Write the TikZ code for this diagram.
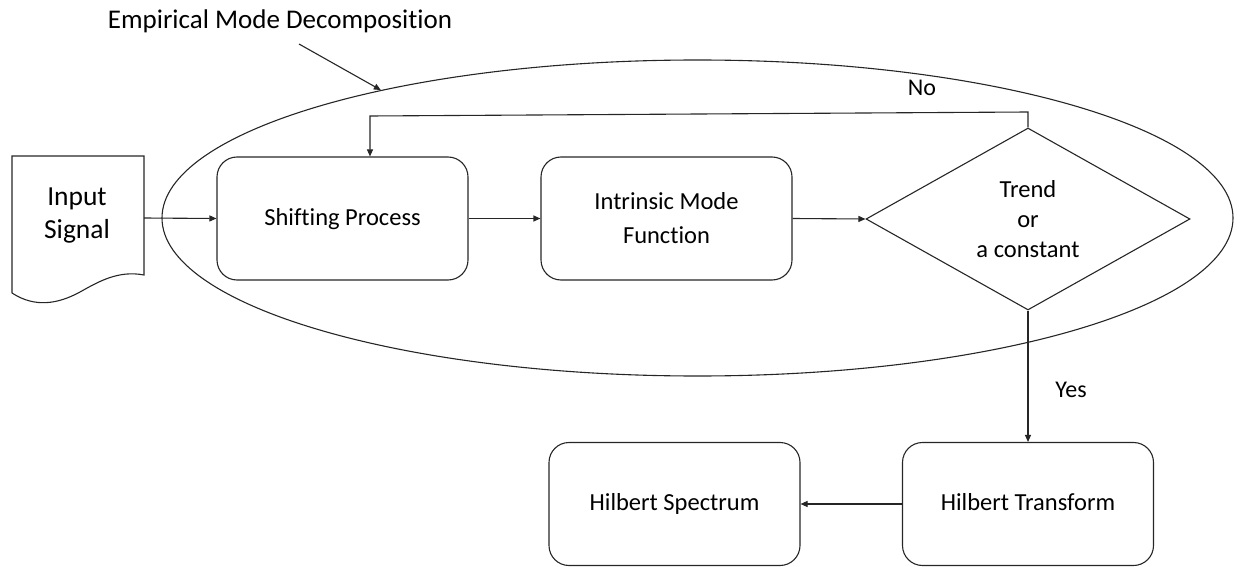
\documentclass[tikz,border=0pt]{standalone}
\usepackage{fontspec}
\setmainfont{Carlito}[Ligatures={NoCommon}]
\usetikzlibrary{shapes.geometric,arrows.meta}
\tikzset{
  line/.style={draw=black!85, line width=1.1pt},
  flow/.style={line, -{Triangle[length=7pt,width=6pt]}},
  procbox/.style={line, rounded corners=20pt, minimum width=251pt, minimum height=123pt,
    align=center, font=\fontsize{24.5}{34}\selectfont, inner sep=0pt},
  decision/.style={line, diamond, minimum width=324pt, minimum height=182pt,
    align=center, font=\fontsize{24.5}{30}\selectfont, inner sep=0pt},
  lbl/.style={font=\fontsize{24}{28}\selectfont, inner sep=0pt}
}
\begin{document}
\begin{tikzpicture}[x=1pt,y=-1pt]
\useasboundingbox (0,0) rectangle (1243,567);

% enclosing EMD ellipse
\node[line, ellipse, minimum width=1071pt, minimum height=316pt, inner sep=0pt] (emd) at (697.5,218) {};

% input document
\draw[line] (12,293) -- (12,156) -- (144,156) -- (144,275)
  .. controls (118,270) and (98,282) .. (80,292)
  .. controls (58,304) and (35,308) .. (12,293);
\node[font=\fontsize{27.5}{33}\selectfont, align=center, inner sep=0pt] (input) at (77,216) {Input\\Signal};
\coordinate (inout) at (144,218);

% process boxes
\node[procbox] (shift) at (342.5,218.5) {Shifting Process\strut};
\node[procbox] (imf) at (666.5,218.5) {Intrinsic Mode\\Function};
\node[decision] (trend) at (1028,219) {Trend\\or\\a constant};
\node[procbox] (ht) at (1028,504) {Hilbert Transform\strut};
\node[procbox] (hs) at (674.5,504) {Hilbert Spectrum\strut};

% connectors
\draw[flow] (inout) -- (shift.west);
\draw[flow] (shift.east) -- (imf.west);
\draw[flow] (imf.east) -- (trend.west);
\coordinate (fbR) at (1028,112);
\coordinate (fbL) at (370,116);
\draw[flow] (trend.north) -- (fbR) -- (fbL) -- (fbL |- shift.north);
\draw[flow] (trend.south) -- (ht.north);
\draw[flow] (ht.west) -- (hs.east);

% labels
\node[lbl] (no) at (922,88) {No};
\node[lbl] (yes) at (1071,390) {Yes};

% title with pointer to the ellipse
\node[font=\fontsize{27}{32}\selectfont, inner sep=0pt] (title) at (280,21) {Empirical Mode Decomposition};
\coordinate (ttail) at (299,44);
\draw[flow] (ttail) -- (emd.158.7);
\end{tikzpicture}
\end{document}
